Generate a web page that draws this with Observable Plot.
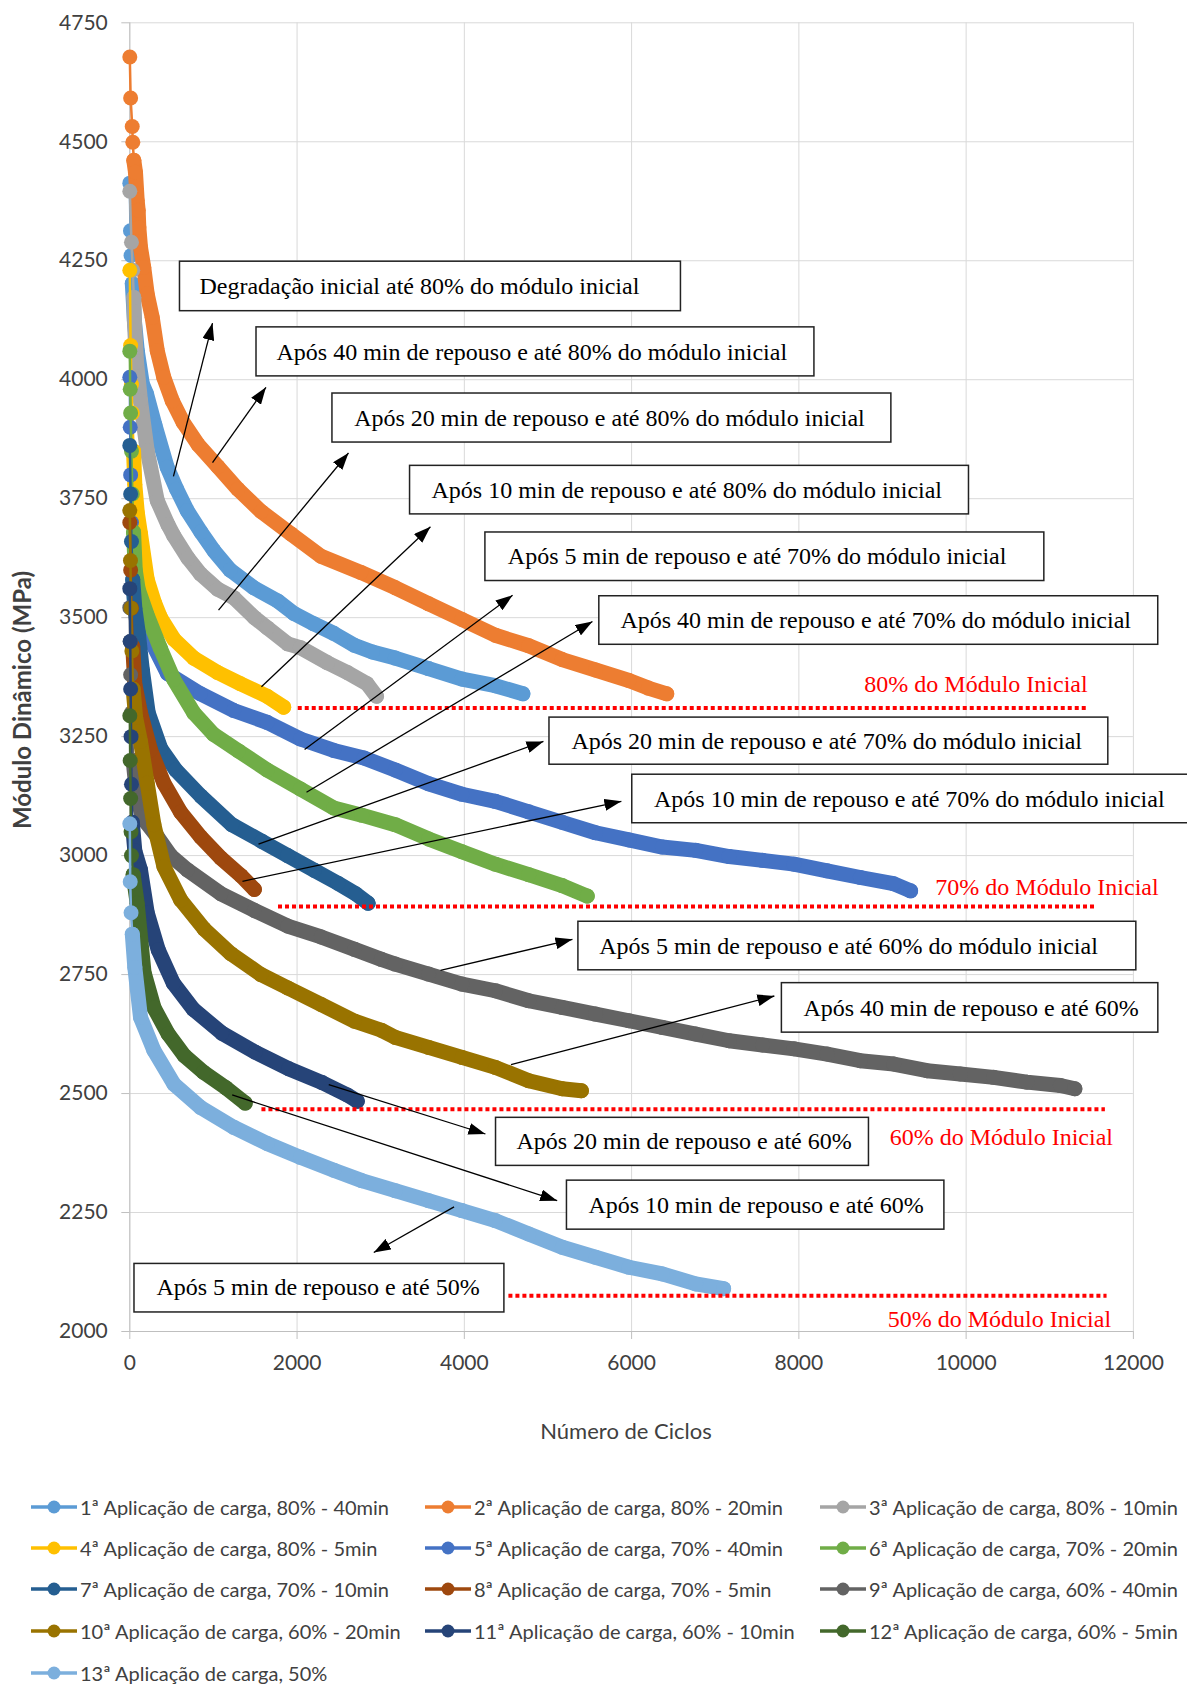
<!DOCTYPE html>
<html><head><meta charset="utf-8">
<script src="https://cdn.jsdelivr.net/npm/d3@7"></script>
<script src="https://cdn.jsdelivr.net/npm/@observablehq/plot@0.6"></script>
<style>
body{margin:0;background:#fff;}
#chart svg{display:block;}
#legend{position:relative;width:1187px;height:216px;font-family:Lato,"Noto Sans",sans-serif;font-size:20px;color:#404040;}
.li{position:absolute;height:30px;display:flex;align-items:center;white-space:nowrap;}
.li svg{margin-right:3px;}
</style></head><body>
<div id="chart"></div><div id="legend"></div>
<script>
// ---------- data ----------
const seriesNames = [
  "1ª Aplicação de carga, 80% - 40min","2ª Aplicação de carga, 80% - 20min","3ª Aplicação de carga, 80% - 10min",
  "4ª Aplicação de carga, 80% - 5min","5ª Aplicação de carga, 70% - 40min","6ª Aplicação de carga, 70% - 20min",
  "7ª Aplicação de carga, 70% - 10min","8ª Aplicação de carga, 70% - 5min","9ª Aplicação de carga, 60% - 40min",
  "10ª Aplicação de carga, 60% - 20min","11ª Aplicação de carga, 60% - 10min","12ª Aplicação de carga, 60% - 5min",
  "13ª Aplicação de carga, 50%"];
const seriesColors = ["#5B9BD5","#ED7D31","#A5A5A5","#FFC000","#4472C4","#70AD47","#255E91","#9E480E","#636363","#997300","#264478","#43682B","#7CAFDD"];

const s1 = [[0,4413],[8,4313],[15,4261],[30,4202],[55,4124],[90,4060],[150,3991],[200,3970],[300,3905],[447,3816],[560,3770],[686,3725],[850,3680],[1004,3641],[1200,3600],[1482,3563],[1769,3535],[1961,3509],[2200,3487],[2439,3467],[2684,3442],[2900,3428],[3174,3415],[3573,3393],[3972,3371],[4371,3357],[4700,3340]];
const s2 = [[0,4678],[10,4592],[29,4532],[36,4499],[48,4461],[68,4436],[88,4377],[100,4356],[108,4320],[128,4278],[167,4236],[208,4180],[268,4131],[328,4061],[406,4005],[507,3956],[636,3911],[815,3864],[1054,3817],[1292,3770],[1571,3723],[1928,3676],[2286,3629],[2763,3595],[3174,3563],[3573,3529],[3972,3496],[4371,3463],[4770,3441],[5170,3412],[5569,3390],[5968,3368],[6200,3352],[6420,3340]];
const s3 = [[0,4396],[20,4289],[35,4230],[48,4173],[56,4118],[80,4037],[128,3956],[208,3851],[328,3746],[457,3695],[526,3672],[696,3625],[845,3592],[1050,3560],[1243,3542],[1491,3500],[1642,3479],[1889,3445],[2040,3437],[2366,3405],[2600,3385],[2837,3361],[2950,3335]];
const s4 = [[0,4230],[10,4072],[20,3990],[30,3930],[45,3850],[60,3780],[90,3720],[128,3676],[208,3580],[298,3530],[367,3500],[526,3455],[765,3415],[1048,3385],[1323,3361],[1642,3335],[1840,3312]];
const s5 = [[0,4005],[5,3900],[10,3800],[20,3700],[30,3620],[60,3560],[100,3520],[210,3467],[450,3383],[845,3340],[1243,3305],[1642,3280],[2040,3245],[2439,3221],[2800,3205],[3174,3180],[3573,3151],[3972,3129],[4371,3114],[4770,3092],[5170,3070],[5569,3048],[5968,3033],[6367,3018],[6767,3011],[7166,2998],[7565,2990],[7941,2982],[8337,2968],[8735,2954],[9131,2941],[9336,2926]];
const s6 = [[0,4060],[5,3980],[10,3930],[20,3850],[30,3760],[45,3680],[65,3600],[100,3560],[208,3505],[367,3435],[526,3370],[765,3300],[1000,3255],[1300,3220],[1642,3180],[2040,3140],[2439,3100],[2774,3085],[3174,3065],[3573,3035],[3972,3008],[4371,2982],[4770,2960],[5170,2937],[5470,2915]];
const s7 = [[0,3862],[10,3760],[20,3660],[35,3580],[60,3520],[100,3470],[150,3390],[220,3300],[370,3225],[550,3180],[850,3125],[1220,3065],[1580,3030],[1888,3000],[2208,2969],[2488,2942],[2700,2920],[2850,2900]];
const s8 = [[0,3700],[10,3600],[20,3520],[35,3440],[60,3360],[128,3300],[248,3222],[408,3152],[608,3091],[848,3039],[1088,2995],[1328,2958],[1490,2929]];
const s9 = [[0,3521],[5,3450],[10,3380],[20,3300],[40,3200],[80,3130],[150,3080],[328,3040],[488,3000],[688,2970],[1088,2920],[1488,2885],[1888,2852],[2288,2829],[2688,2803],[3008,2782],[3174,2772],[3573,2751],[3972,2730],[4371,2716],[4770,2695],[5170,2681],[5569,2667],[5968,2653],[6367,2639],[6767,2625],[7166,2611],[7565,2602],[7941,2594],[8337,2583],[8735,2569],[9134,2562],[9533,2548],[9930,2541],[10329,2534],[10728,2524],[11127,2517],[11300,2510]];
const s10 = [[0,3725],[8,3620],[15,3520],[25,3430],[40,3350],[70,3290],[128,3240],[208,3152],[288,3065],[408,2977],[608,2907],[888,2846],[1208,2794],[1568,2750],[1888,2722],[2288,2687],[2688,2652],[3008,2633],[3174,2618],[3573,2597],[3972,2576],[4371,2555],[4770,2527],[5170,2510],[5400,2506]];
const s11 = [[0,3561],[5,3450],[10,3350],[15,3250],[20,3150],[30,3070],[60,3010],[128,2970],[208,2880],[340,2802],[520,2732],[760,2677],[1100,2627],[1500,2587],[1900,2552],[2300,2523],[2600,2497],[2720,2484]];
const s12 = [[0,3294],[5,3200],[10,3120],[15,3050],[20,3000],[40,2960],[88,2900],[170,2755],[290,2680],[460,2625],[650,2580],[880,2545],[1150,2512],[1380,2480]];
const s13 = [[0,3067],[5,2945],[15,2880],[30,2835],[60,2765],[128,2660],[287,2591],[527,2520],[845,2471],[1243,2429],[1642,2395],[2040,2366],[2439,2339],[2774,2317],[3174,2296],[3573,2275],[3972,2254],[4371,2233],[4770,2205],[5170,2177],[5569,2156],[5968,2135],[6367,2121],[6767,2100],[7100,2090]];
const allSeries = [s1,s2,s3,s4,s5,s6,s7,s8,s9,s10,s11,s12,s13];

const xTicks = [0,2000,4000,6000,8000,10000,12000];
const yTicks = [2000,2250,2500,2750,3000,3250,3500,3750,4000,4250,4500,4750];
const xTitle = "Número de Ciclos";
const yTitle = "Módulo Dinâmico (MPa)";

// reference levels (MPa) and their drawn extents (cycles)
const refLabels = ["80% do Módulo Inicial","70% do Módulo Inicial","60% do Módulo Inicial","50% do Módulo Inicial"];
const refValues = [3310,2893,2467,2075];
const refStart = [2014,1778,1580,4533];
const refEnd = [11449,11569,11665,11685];
const refLabelX = [11453,12302,11756,11733];
const refLabelY = [3361,2933,2408,2026];

// annotation boxes (text + box in data units)
const noteTexts = [
  "Degradação inicial até 80% do módulo inicial",
  "Após 40 min de repouso e até 80% do módulo inicial",
  "Após 20 min de repouso e até 80% do módulo inicial",
  "Após 10 min de repouso e até 80% do módulo inicial",
  "Após 5 min de repouso e até 70% do módulo inicial",
  "Após 40 min de repouso e até 70% do módulo inicial",
  "Após 20 min de repouso e até 70% do módulo inicial",
  "Após 10 min de repouso e até 70% do módulo inicial",
  "Após 5 min de repouso e até 60% do módulo inicial",
  "Após 40 min de repouso e até 60%",
  "Após 20 min de repouso e até 60%",
  "Após 10 min de repouso e até 60%",
  "Após 5 min de repouso e até 50%"];
const boxX1 = [600,1515,2423,3351,4252,5614,5018,6008,5364,7797,4379,5227,56];
const boxX2 = [6590,8186,9106,10034,10935,12297,11700,12900,12035,12298,8838,9740,4479];
const boxY1 = [4248,4110,3971,3819,3679,3545,3290,3170,2861,2732,2449,2317,2142];
const boxY2 = [4144,4007,3868,3717,3577,3443,3191,3068,2759,2628,2348,2214,2040];
const textX = [833,1754,2683,3607,4520,5866,5280,6268,5613,8054,4623,5484,318];
const textY = [4196,4058,3919,3767,3628,3494,3241,3119,2810,2680,2399,2265,2092];
// arrows: tail (on curve) -> head
const arrTailX = [522,989,1061,1574,2090,2113,1539,1347,3715,4558,2379,1224,3877];
const arrTailY = [3797,3826,3516,3355,3223,3133,3024,2946,2759,2561,2519,2497,2262];
const arrHeadX = [989,1628,2615,3595,4577,5532,4946,5878,5293,7707,4252,5110,2917];
const arrHeadY = [4119,3984,3846,3691,3547,3492,3240,3114,2824,2705,2415,2275,2166];

// ---------- build tables ----------
const notes = noteTexts.map((t,i)=>({t,x1:boxX1[i],x2:boxX2[i],y1:boxY1[i],y2:boxY2[i],tx:textX[i],ty:textY[i]}));
const arrows = arrTailX.map((_,i)=>({x1:arrTailX[i],y1:arrTailY[i],x2:arrHeadX[i],y2:arrHeadY[i]}));
const refs = refValues.map((v,i)=>({v,a:refStart[i],b:refEnd[i],lab:refLabels[i],lx:refLabelX[i],ly:refLabelY[i]}));

const seriesMarks = [];
allSeries.forEach((s,i)=>{
  const pts = s.map(([x,y])=>({x,y}));
  const c = seriesColors[i];
  const firstThick = Math.max(0, pts.findIndex(p=>p.x>=50)-1);
  const thick = pts.slice(firstThick);
  seriesMarks.push(Plot.line(pts,{x:"x",y:"y",stroke:c,strokeWidth:2.5}));
  seriesMarks.push(Plot.line(thick,{x:"x",y:"y",stroke:c,strokeWidth:15,strokeLinecap:"round",strokeLinejoin:"round"}));
  seriesMarks.push(Plot.dot(pts,{x:"x",y:"y",r:7.5,fill:c,stroke:"none"}));
});

const serif = "'Liberation Serif', 'Times New Roman', serif";
const W=1187,H=1470;
const chart = Plot.plot({
  width:W,height:H,
  marginLeft:129.3,marginRight:54.1,marginTop:22.3,marginBottom:H-1331,
  x:{domain:[0,12000]},
  y:{domain:[2000,4750]},
  style:{fontFamily:"Lato, 'Noto Sans', sans-serif",background:"#fff",overflow:"visible"},
  marks:[
    Plot.gridX(xTicks,{stroke:"#D9D9D9",strokeOpacity:1}),
    Plot.gridY(yTicks,{stroke:"#D9D9D9",strokeOpacity:1}),
    Plot.ruleX([0],{stroke:"#BFBFBF"}),
    Plot.ruleY([2000],{stroke:"#BFBFBF"}),
    Plot.axisX(xTicks,{tickSize:8,tickPadding:16,stroke:"#BFBFBF",color:"#404040",fontSize:21,label:null,tickFormat:d=>String(d)}),
    Plot.axisY(yTicks,{tickSize:8,tickPadding:14,stroke:"#BFBFBF",color:"#404040",fontSize:21,label:null,tickFormat:d=>String(d)}),
    ...seriesMarks,
    Plot.ruleY(refs,{y:"v",x1:"a",x2:"b",stroke:"#FF0000",strokeWidth:4,strokeDasharray:"4,3"}),
    Plot.text(refs,{x:"lx",y:"ly",text:"lab",textAnchor:"end",fill:"#FF0000",fontFamily:serif,fontSize:24}),
    Plot.link(arrows,{x1:"x1",y1:"y1",x2:"x2",y2:"y2",stroke:"#000",strokeWidth:1.3}),
    Plot.rect(notes,{x1:"x1",x2:"x2",y1:"y1",y2:"y2",fill:"#fff",stroke:"#222",strokeWidth:1.5}),
    Plot.text(notes,{x:"tx",y:"ty",text:"t",textAnchor:"start",fill:"#000",fontFamily:serif,fontSize:24})
  ]
});
document.getElementById("chart").appendChild(chart);

const svg = d3.select(chart);
// axis titles
svg.append("text").attr("x",626).attr("y",1430).attr("text-anchor","middle").attr("dominant-baseline","central")
  .attr("font-size",22).attr("fill","#404040").attr("font-family","Lato, sans-serif").text(xTitle);
svg.append("text").attr("transform","translate(21,700) rotate(-90)").attr("text-anchor","middle").attr("dominant-baseline","central")
  .attr("font-size",24).attr("font-weight","bold").attr("fill","#404040").attr("font-family","Lato, sans-serif").text(yTitle);

// filled arrowheads
svg.append("defs").append("marker")
  .attr("id","ah").attr("markerUnits","userSpaceOnUse")
  .attr("viewBox","0 0 17 12").attr("markerWidth",17).attr("markerHeight",12)
  .attr("refX",17).attr("refY",6).attr("orient","auto")
  .append("path").attr("d","M0,0L17,6L0,12Z").attr("fill","#000");
svg.selectAll('g[aria-label="link"] path').attr("marker-end","url(#ah)");

// legend
const leg = document.getElementById("legend");
const colX = [31,425,820];
const rowY = [37,78,119,161,203];
seriesNames.forEach((n,i)=>{
  const col = i%3, row = Math.floor(i/3);
  const d = document.createElement("div");
  d.className="li";
  d.style.left = colX[col]+"px";
  d.style.top = (rowY[row]-15)+"px";
  d.innerHTML = `<svg width="46" height="16"><line x1="0" y1="8" x2="46" y2="8" stroke="${seriesColors[i]}" stroke-width="3.5"/><circle cx="23" cy="8" r="6.5" fill="${seriesColors[i]}"/></svg><span>${n}</span>`;
  leg.appendChild(d);
});
</script>
</body></html>
